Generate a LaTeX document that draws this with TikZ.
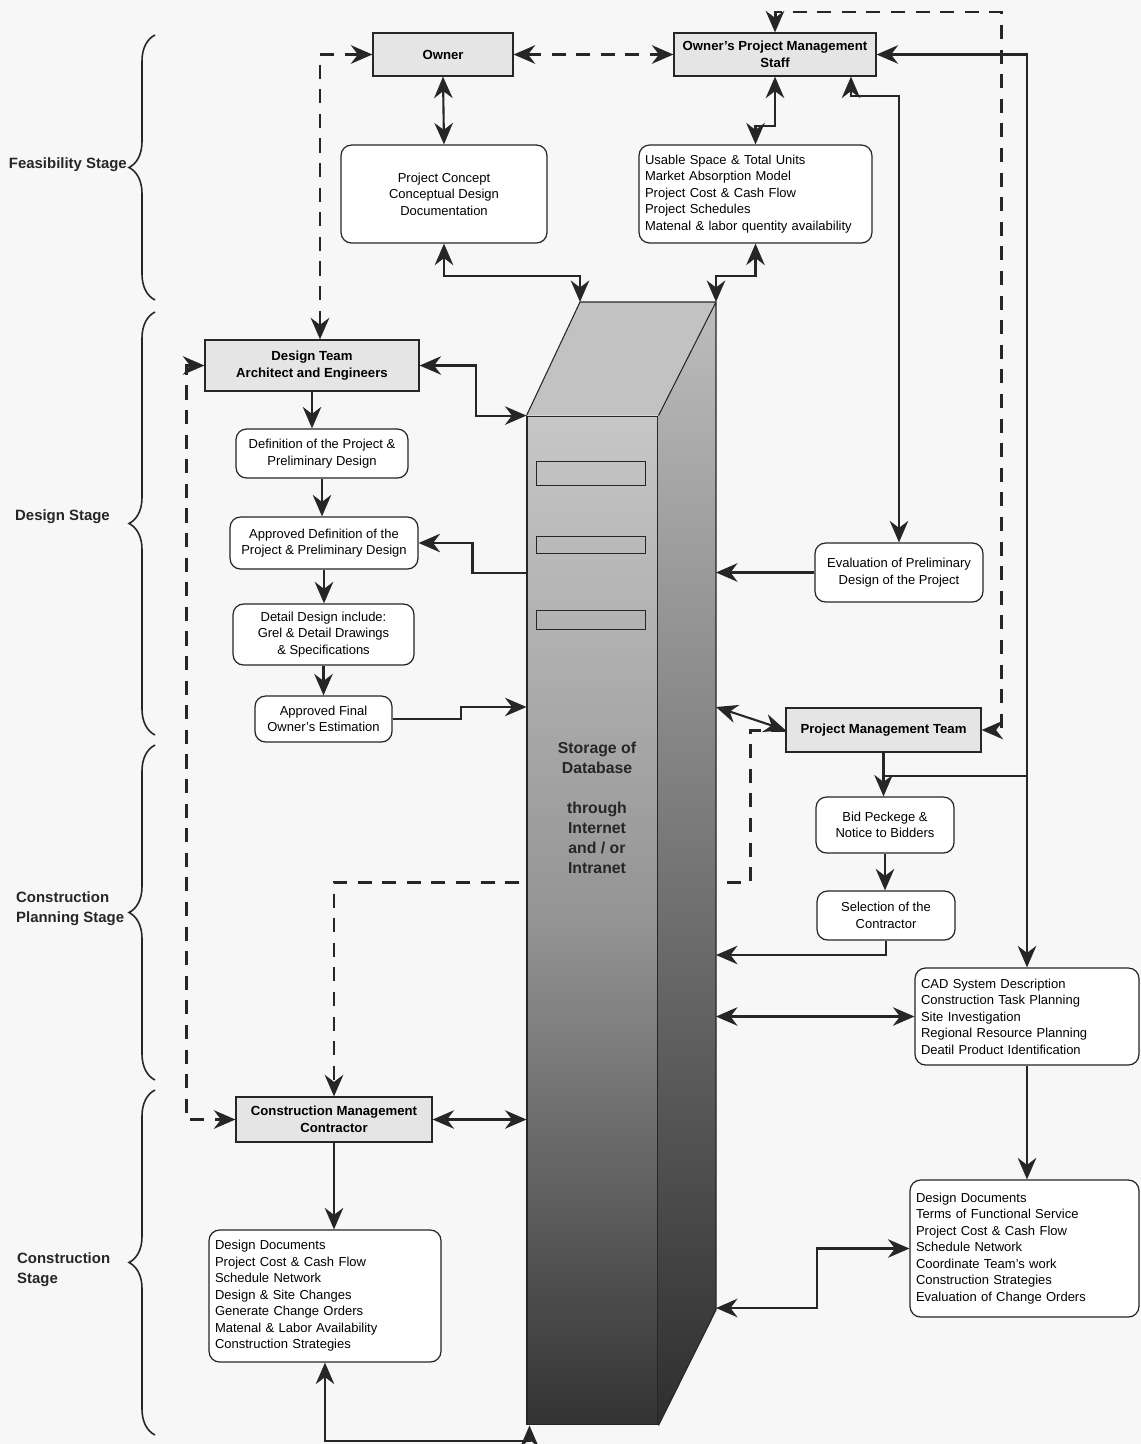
\documentclass[tikz,border=0pt]{standalone}
\usepackage{fontspec}
\setmainfont{Liberation Sans}
\usepackage{tikz}
\usetikzlibrary{arrows.meta,calc,decorations.pathreplacing}

\begin{document}
\begin{tikzpicture}[x=0.02cm, y=-0.02cm, every node/.style={font=\fontsize{7.4}{9.4}\selectfont},
	>={Stealth[length=4.3mm, width=3.7mm]},
	link/.style={draw=black!85, line width=1.2pt},
	dashlink/.style={draw=black!85, line width=1.7pt, dash pattern=on 8pt off 6pt},
	teambox/.style={draw=black!85, line width=0.7pt, fill=black!10, font=\fontsize{7.5}{9.4}\selectfont\bfseries, align=center, inner sep=0pt},
	infobox/.style={draw=black!85, line width=0.7pt, fill=white, rounded corners=6pt, align=center, inner sep=0pt},
	listbox/.style={draw=black!85, line width=0.7pt, fill=white, rounded corners=6pt, align=left, inner xsep=3.4pt, inner ysep=0pt},
	dbface/.style={draw=black!85, line width=0.6pt, inner sep=0pt, top color=black!22, bottom color=black!80, middle color=black!42},
	stage/.style={font=\fontsize{8.5}{11.4}\selectfont\bfseries, text=black!85, align=left},
	stagebrace/.style={draw=black!85, line width=0.9pt, decorate, decoration={brace, amplitude=0.52cm}}]
	\fill[black!3] (0,0) rectangle (1141,1444);
	\useasboundingbox (0,0) rectangle (1141,1444);

	% stages
	\draw[stagebrace] (155,300) -- (155,35);
	\draw[stagebrace] (155,735) -- (155,312);
	\draw[stagebrace] (155,1080) -- (155,745);
	\draw[stagebrace] (155,1435) -- (155,1090);
	\node[stage, anchor=east] (feas) at (133,165) {Feasibility Stage};
	\node[stage, anchor=west] (design) at (9,517) {Design Stage};
	\node[stage, anchor=west] (plan) at (10,909) {Construction\\Planning Stage};
	\node[stage, anchor=west] (build) at (11,1270) {Construction\\Stage};

	% boxes
	\node[teambox, minimum width=2.8cm, minimum height=0.86cm] (owner) at (443,54.5) {Owner};
	\node[teambox, minimum width=4.04cm, minimum height=0.86cm] (opms) at (775,54.5) {Owner's Project Management\\Staff};
	\node[infobox, minimum width=4.12cm, minimum height=1.96cm] (concept) at (444,194) {Project Concept\\Conceptual Design\\Documentation};
	\node[listbox, text width=4.42cm, minimum height=1.96cm] (usable) at (755.5,194) {Usable Space \& Total Units\\Market Absorption Model\\Project Cost \& Cash Flow\\Project Schedules\\Matenal \& labor quentity availability};
	\node[teambox, minimum width=4.28cm, minimum height=1.02cm] (team) at (312,365.5) {Design Team\\Architect and Engineers};
	\node[infobox, minimum width=3.44cm, minimum height=0.98cm] (define) at (322,453.5) {Definition of the Project \&\\Preliminary Design};
	\node[infobox, minimum width=3.76cm, minimum height=1.04cm] (apdefine) at (324,543) {Approved Definition of the\\Project \& Preliminary Design};
	\node[infobox, minimum width=3.62cm, minimum height=1.22cm] (detail) at (323.5,634.5) {Detail Design include:\\Grel \& Detail Drawings\\\& Specifications};
	\node[infobox, minimum width=2.74cm, minimum height=0.92cm] (apfinal) at (323.5,719) {Approved Final\\Owner's Estimation};
	\node[infobox, minimum width=3.36cm, minimum height=1.18cm] (evaluate) at (899,572.5) {Evaluation of Preliminary\\Design of the Project};
	\node[teambox, minimum width=3.9cm, minimum height=0.88cm] (pmteam) at (883.5,730) {Project Management Team};
	\node[infobox, minimum width=2.76cm, minimum height=1.12cm] (bid) at (885,825) {Bid Peckege \&\\Notice to Bidders};
	\node[infobox, minimum width=2.76cm, minimum height=0.98cm] (select) at (886,915.5) {Selection of the\\Contractor};
	\node[listbox, text width=4.24cm, minimum height=1.94cm] (cad) at (1027,1016.5) {CAD System Description\\Construction Task Planning\\Site Investigation\\Regional Resource Planning\\Deatil Product Identification};
	\node[listbox, text width=4.34cm, minimum height=2.74cm] (docsr) at (1024.5,1248.5) {Design Documents\\Terms of Functional Service\\Project Cost \& Cash Flow\\Schedule Network\\Coordinate Team's work\\Construction Strategies\\Evaluation of Change Orders};
	\node[teambox, minimum width=3.92cm, minimum height=0.9cm] (cmc) at (334,1119.5) {Construction Management\\Contractor};
	\node[listbox, text width=4.4cm, minimum height=2.64cm] (docsl) at (325,1296) {Design Documents\\Project Cost \& Cash Flow\\Schedule Network\\Design \& Site Changes\\Generate Change Orders\\Matenal \& Labor Availability\\Construction Strategies};

	% dashed link that runs behind the database
	\draw[dashlink,->] (pmteam.west) -- ++(-35,0) -- ++(0,152) -| (cmc.north);

	% database
	\node[dbface, minimum width=2.62cm, minimum height=20.18cm] (db) at (592.5,920.5) {};
	\coordinate (dbtl) at (580,302);
	\coordinate (dbtr) at (716,302);
	\coordinate (dbbr) at (716,1310);
	\fill[black!24] (db.north west) -- (dbtl) -- (dbtr) -- (db.north east) -- cycle;
	\shade[top color=black!26, middle color=black!46, bottom color=black!82] (db.north east) -- (dbtr) -- (dbbr) -- (db.south east) -- cycle;
	\draw[black!85, line width=0.6pt] (db.north west) -- (dbtl) -- (dbtr) -- (dbbr) -- (db.south east) (db.north east) -- (dbtr);
	\foreach \ya/\yb in {461/485, 536/553, 610/629}
		\draw[black!85, line width=0.5pt] (536,\ya) rectangle (645,\yb);
	\node[font=\fontsize{9}{11.4}\selectfont\bfseries, text=black!85, align=center] (dbtext) at (597,808) {Storage of\\Database\\[11.4pt]through\\Internet\\and / or\\Intranet};

	% dashed links
	\draw[dashlink,<->] (owner.east) -- (opms.west);
	\draw[dashlink,<->] (owner.west) -| ($(team.north)+(8,0)$);
	\coordinate (topright) at (1001,12);
	\draw[dashlink,<->] (opms.north) |- (topright) |- (pmteam.east);
	\draw[dashlink,<->] (team.west) -- ++(-18,0) |- (cmc.west);

	% solid links
	\draw[link,<->] (owner.south) -- (concept.north);
	\draw[link,<->] (opms.south) -- ++(0,49) -| (usable.north);
	\draw[link,<->] ($(opms.south)+(76,0)$) -- ++(0,19) -| (evaluate.north);
	\draw[link,<->] (opms.east) -| (cad.north);
	\draw[link,<->] (concept.south) -- ++(0,32) -| (dbtl);
	\draw[link,<->] (usable.south) -- ++(0,32) -| (dbtr);
	\draw[link,<->] (team.east) -- ++(56,0) |- (db.north west);
	\draw[link,->] (team.south) -- (team.south |- define.north);
	\draw[link,->] (define.south) -- (define.south |- apdefine.north);
	\draw[link,->] (apdefine.south) -- (apdefine.south |- detail.north);
	\draw[link,->] (detail.south) -- (detail.south |- apfinal.north);
	\draw[link,->] (db.west |- 0,573) -- ++(-54,0) |- (apdefine.east);
	\draw[link,->] (apfinal.east) -- ++(68,0) -- ++(0,-12) -- (db.west |- 0,707);
	\draw[link,->] (evaluate.west) -- (evaluate.west -| dbtr);
	\draw[link,<->] (dbtr |- 0,707) -- (pmteam.west);
	\draw[link,->] (pmteam.south) -- (pmteam.south |- bid.north);
	\coordinate (junction) at ($(pmteam.south)+(0,23)$);
	\draw[link] (junction) -- (junction -| cad.north);
	\draw[link,->] (bid.south) -- (bid.south |- select.north);
	\draw[link,->] (select.south) |- (dbtr |- 0,955);
	\draw[link,<->] (dbtr |- cad.west) -- (cad.west);
	\draw[link,->] (cad.south) -- (cad.south |- docsr.north);
	\draw[link,<->] (docsr.west) -- ++(-92,0) |- (dbtr |- 0,1308);
	\draw[link,<->] (cmc.east) -- (db.west |- cmc.east);
	\draw[link,->] (cmc.south) -- (cmc.south |- docsl.north);
	\draw[link,<->] (docsl.south) -- ++(0,78) -| ($(db.south west)+(3,0)$);
\end{tikzpicture}
\end{document}
